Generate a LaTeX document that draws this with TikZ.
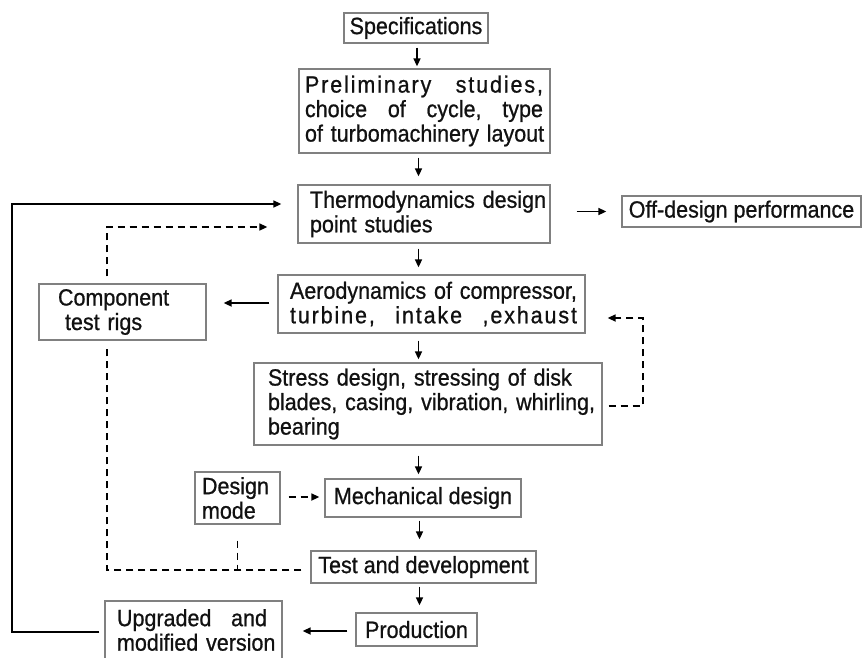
\documentclass[tikz,border=0pt]{standalone}
\usepackage{fontspec}
\setmainfont[FakeStretch=0.915,FakeBold=0.8]{Liberation Sans}
\newfontfamily\spaced[LetterSpace=8,FakeStretch=0.915,FakeBold=0.8]{Liberation Sans}
\usetikzlibrary{arrows.meta,calc}
\definecolor{boxgray}{HTML}{808080}
\definecolor{txt}{HTML}{111111}
\newcommand{\jline}[2]{\leavevmode\hbox to #1{#2}}
\begin{document}
\begin{tikzpicture}[x=1pt,y=-1pt,
  font=\fontsize{23.5}{24.5}\selectfont,
  box/.style={draw=boxgray, line width=1.3pt, inner ysep=0pt, text=txt},
  lbox/.style={box, inner xsep=2pt, align=left},
  arr/.style={-{Triangle[length=8pt,width=7pt]}, line width=1.6pt, draw=black},
  dsh/.style={line width=1.6pt, dash pattern=on 7.5pt off 4.5pt, draw=black}]
\useasboundingbox (0,0) rectangle (863,657);

% boxes
\node[box, minimum width=144pt, minimum height=30pt] (spec) at (416,28) {Specifications};
\node[lbox, minimum width=251pt, minimum height=84pt, text width=247pt] (prel) at (424.5,111)
  {\hspace*{4pt}\jline{238pt}{\spaced Preliminary\hfill studies,}\\
   \hspace*{4pt}\jline{238pt}{choice\hfill of\hfill cycle,\hfill type}\\
   \hspace*{4pt}of turbomachinery layout};
\node[lbox, minimum width=252pt, minimum height=58pt, text width=248pt] (thermo) at (424,214)
  {\hspace*{10pt}Thermodynamics design\\\hspace*{10pt}point studies};
\node[box, minimum width=239pt, minimum height=31pt] (off) at (741.5,211.5) {Off-design performance};
\node[lbox, minimum width=307pt, minimum height=58pt, text width=303pt] (aero) at (431.5,304)
  {\hspace*{10pt}Aerodynamics of compressor,\\
   \hspace*{10pt}\jline{287pt}{\spaced turbine,\hfill intake\hfill ,exhaust}};
\node[lbox, minimum width=167pt, minimum height=56pt, text width=163pt] (comp) at (122.5,312)
  {\hspace*{17pt}Component\\\hspace*{24pt}test rigs};
\node[lbox, minimum width=348pt, minimum height=82pt, text width=344pt] (stress) at (428,404)
  {\hspace*{12pt}Stress design, stressing of disk\\
   \hspace*{12pt}blades, casing, vibration, whirling,\\
   \hspace*{12pt}bearing};
\node[lbox, minimum width=85pt, minimum height=52pt, text width=81pt] (dm) at (237.5,498)
  {\hspace*{5pt}Design\\\hspace*{5pt}mode};
\node[box, minimum width=196pt, minimum height=38pt] (mech) at (423,498) {Mechanical design};
\node[box, minimum width=225pt, minimum height=32pt] (test) at (423.5,567) {Test and development};
\node[box, minimum width=121pt, minimum height=33pt] (prod) at (416.5,629.5) {Production};
\node[lbox, minimum width=177pt, minimum height=58pt, text width=173pt] (upg) at (193.5,630)
  {\hspace*{10pt}\jline{150pt}{Upgraded\hfill and}\\\hspace*{10pt}modified version};

% helper coordinates
\coordinate (col) at (418.5,0);
\coordinate (fbL) at (12,632);
\coordinate (fbT) at (12,204);
\coordinate (dTop) at (107,227);
\coordinate (dBot) at (107,570);
\coordinate (rA) at (643,318);
\coordinate (rB) at (643,406);

% main vertical arrows
\draw[arr] ($(spec.south)+(1,4)$) -- ($(spec.south |- prel.north)+(1,-2)$);
\draw[arr] ($(prel.south -| col)+(0,4)$) -- ($(thermo.north -| col)+(0,-8)$);
\draw[arr] ($(thermo.south -| col)+(0,5)$) -- ($(aero.north -| col)+(0,-7)$);
\draw[arr] ($(aero.south -| col)+(0,7)$) -- ($(stress.north -| col)+(0,-3)$);
\draw[arr] ($(stress.south -| col)+(0,10)$) -- ($(mech.north -| col)+(0,-4)$);
\draw[arr] ($(mech.south -| col)+(1,3)$) -- ($(test.north -| col)+(1,-11)$);
\draw[arr] ($(test.south -| col)+(1,3)$) -- ($(prod.north -| col)+(1,-7)$);

% horizontal arrows
\draw[arr] ($(thermo.east |- off.west)+(26,0)$) -- ($(off.west)+(-15,0)$);
\draw[arr] ($(aero.west)+(-8,-1)$) -- ($(comp.east |- aero.west)+(17,-1)$);
\draw[arr] ($(prod.west)+(-8,1.5)$) -- ($(upg.east |- prod.west)+(20,1.5)$);
\draw[arr,dsh] ($(dm.east)+(8,-1)$) -- ($(mech.west)+(-5,-1)$);

% solid feedback loop
\draw[arr] ($(upg.west)+(-5,2)$) -- (fbL) -- (fbT) -- ($(thermo.west)+(-16,-10)$);

% dashed feedback loops
\draw[arr,dsh] ($(comp.north)+(-15.5,-7)$) -- (dTop) -- ($(thermo.west)+(-30,13)$);
\draw[dsh] ($(test.west)+(-9,3)$) -- (dBot) -- ($(comp.south)+(-15.5,6)$);
\draw[dsh] ($(dm.south)+(0,16)$) -- (dm.south |- dBot);
\draw[arr,dsh] ($(stress.east)+(6,2)$) -- (rB) -- (rA) -- ($(aero.east)+(22,14)$);
\end{tikzpicture}
\end{document}
